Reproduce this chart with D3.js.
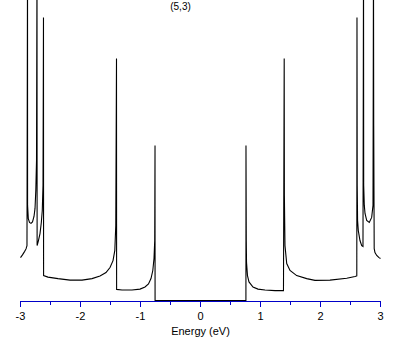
<!DOCTYPE html>
<html>
<head>
<meta charset="utf-8">
<script src="https://cdn.jsdelivr.net/npm/d3@7"></script>
<style>
  html, body { margin: 0; padding: 0; background: #fff; }
  svg { display: block; }
  text { font-family: "Liberation Sans", Arial, sans-serif; }
</style>
</head>
<body>
<svg id="chart" width="409" height="345"></svg>
<script>
// ---- Data ----
const title = "(5,3)";
const xLabel = "Energy (eV)";
const majorTicks = [-3, -2, -1, 0, 1, 2, 3];
const majorTickLabels = ["-3", "-2", "-1", "0", "1", "2", "3"];
const minorTicks = [-2.5, -1.5, -0.5, 0.5, 1.5, 2.5];

// energy (eV) and density of states (arbitrary units; spikes above 10 are off-chart)
const energy = [
  -3.000, -2.967, -2.933, -2.908, -2.892, -2.883, -2.882, -2.870, -2.850, -2.825,
  -2.800, -2.775, -2.758, -2.745, -2.733, -2.725, -2.723, -2.703, -2.675, -2.653,
  -2.637, -2.625, -2.617, -2.615, -2.542, -2.375, -2.175, -1.975, -1.808, -1.675,
  -1.575, -1.508, -1.458, -1.428, -1.412, -1.400, -1.398, -1.308, -1.142, -1.008,
  -0.925, -0.867, -0.825, -0.795, -0.775, -0.763, -0.758, -0.757,
   0.757, 0.758, 0.763, 0.767, 0.783, 0.808, 0.875, 0.958, 1.075, 1.242,
   1.383, 1.395, 1.398, 1.408, 1.437, 1.492, 1.603, 1.770, 1.908, 2.158,
   2.437, 2.575, 2.605, 2.608, 2.612, 2.618, 2.630, 2.658, 2.687, 2.708,
   2.717, 2.720, 2.730, 2.742, 2.770, 2.813, 2.853, 2.875, 2.883, 2.887,
   2.895, 2.908, 2.937, 2.975, 3.000
];
const dos = [
  1.43, 1.52, 1.63, 1.72, 1.83, 11.3, 3.17, 2.73, 2.60, 2.57,
  2.62, 2.80, 3.07, 3.67, 4.67, 11.3, 1.83, 1.98, 2.23, 2.60,
  3.00, 3.83, 9.43, 0.83, 0.78, 0.73, 0.68, 0.68, 0.73, 0.82,
  0.93, 1.10, 1.33, 1.67, 2.50, 8.07, 0.37, 0.35, 0.35, 0.38,
  0.45, 0.55, 0.73, 1.00, 1.40, 2.00, 5.17, 0.00,
  0.00, 5.17, 2.00, 1.27, 0.83, 0.62, 0.45, 0.38, 0.35, 0.33,
  0.33, 8.07, 3.50, 1.83, 1.23, 1.00, 0.83, 0.73, 0.67, 0.68,
  0.74, 0.80, 0.82, 9.43, 3.83, 2.67, 2.33, 2.00, 1.83, 1.80,
  11.3, 3.83, 3.17, 2.90, 2.67, 2.60, 2.77, 3.17, 11.3, 5.83,
  1.73, 1.60, 1.50, 1.43, 1.40
];

// ---- Chart ----
const svg = d3.select("#chart");
const x = d3.scaleLinear().domain([-3, 3]).range([20, 380]);
const y = d3.scaleLinear().domain([0, 10]).range([300.5, 0.5]);

const points = energy.map((e, i) => [e, dos[i]]);

const axisColor = "#0000c8";

// minor ticks
const minorAxis = d3.axisBottom(x).tickValues(minorTicks).tickSize(4).tickSizeOuter(0).tickFormat("");
const gMinor = svg.append("g").attr("transform", "translate(0,301)").call(minorAxis);
gMinor.select(".domain").remove();
gMinor.selectAll("line").attr("stroke", axisColor);

// major axis
const majorAxis = d3.axisBottom(x).tickValues(majorTicks).tickSize(6).tickSizeOuter(0).tickPadding(5)
  .tickFormat((d, i) => majorTickLabels[i]);
const gMajor = svg.append("g").attr("transform", "translate(0,301)").call(majorAxis);
gMajor.select(".domain").attr("stroke", axisColor);
gMajor.selectAll("line").attr("stroke", axisColor);
gMajor.selectAll("text").attr("fill", "#000").style("font-size", "11px")
  .style("font-family", "'Liberation Sans', Arial, sans-serif");

// curve
const line = d3.line().x(d => x(d[0])).y(d => y(d[1]));
svg.append("g").attr("transform", "translate(0.5,0)")
  .append("path")
  .datum(points)
  .attr("d", line)
  .attr("fill", "none")
  .attr("stroke", "#000")
  .attr("stroke-width", 1.1)
  .attr("stroke-linejoin", "miter");

// title
svg.append("text")
  .attr("x", 180.5).attr("y", 10)
  .attr("text-anchor", "middle")
  .style("font-size", "10px")
  .text(title);

// x label
svg.append("text")
  .attr("x", 200.5).attr("y", 335)
  .attr("text-anchor", "middle")
  .style("font-size", "11px")
  .text(xLabel);
</script>
</body>
</html>
